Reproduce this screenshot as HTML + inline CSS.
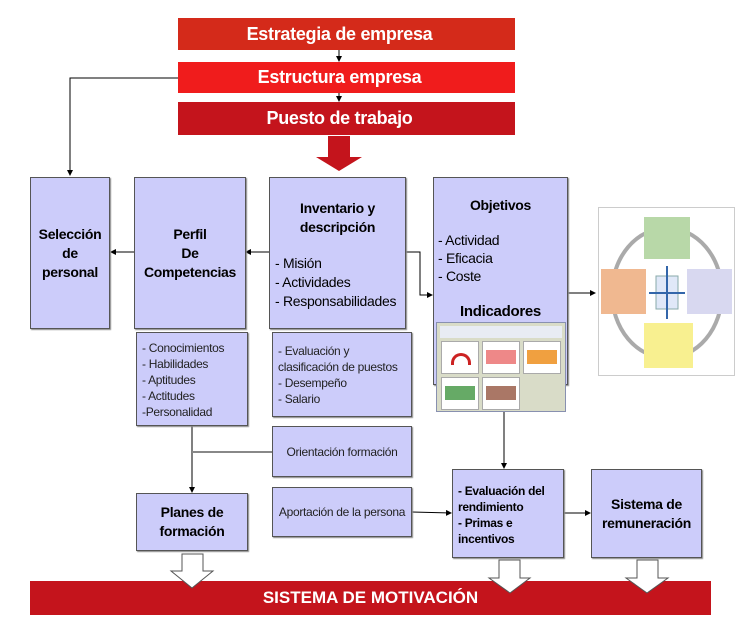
<!DOCTYPE html>
<html><head><meta charset="utf-8"><style>
*{margin:0;padding:0;box-sizing:border-box}
body{width:754px;height:641px;background:#fff;position:relative;overflow:hidden;font-family:"Liberation Sans",sans-serif}
.a{position:absolute}
.bar{position:absolute;left:178px;width:337px;color:#fff;font-weight:bold;font-size:18px;text-align:center;display:flex;align-items:center;justify-content:center;padding-right:14px;letter-spacing:-0.3px}
.box{position:absolute;background:#ccccfa;border:1px solid #555;box-shadow:1px 1px 1px #888}
.t{font-weight:bold;font-size:14px;text-align:center;line-height:19px;letter-spacing:-0.3px}
.n{font-size:12px;line-height:16px;color:#222;letter-spacing:-0.3px}
</style></head><body>
<div class="bar" style="top:18px;height:32px;background:#d42a1a">Estrategia de empresa</div>
<div class="bar" style="top:62px;height:31px;background:#f01c1c">Estructura empresa</div>
<div class="bar" style="top:102px;height:33px;background:#c4141c">Puesto de trabajo</div>

<svg class="a" style="left:0;top:0" width="754" height="641">
<defs><marker id="m" markerWidth="6" markerHeight="6" refX="5" refY="3" orient="auto"><path d="M0,0 L6,3 L0,6z" fill="#000"/></marker></defs>
<g stroke="#000" stroke-width="1" fill="none">
<line x1="339" y1="50" x2="339" y2="61" marker-end="url(#m)"/>
<line x1="339" y1="93" x2="339" y2="101" marker-end="url(#m)"/>
<polyline points="178,78 70,78 70,175" marker-end="url(#m)"/>
<line x1="269" y1="252" x2="246" y2="252" marker-end="url(#m)"/>
<line x1="134" y1="252" x2="111" y2="252" marker-end="url(#m)"/>
<polyline points="406,252 420,252 420,295 432,295" marker-end="url(#m)"/>
<line x1="568" y1="293" x2="595" y2="293" marker-end="url(#m)"/>
<line x1="192" y1="426" x2="192" y2="492" marker-end="url(#m)"/>
<line x1="504" y1="412" x2="504" y2="468" marker-end="url(#m)"/>
<line x1="412" y1="512" x2="451" y2="513" marker-end="url(#m)"/>
<line x1="564" y1="513" x2="590" y2="513" marker-end="url(#m)"/>
</g>
<line x1="192" y1="452" x2="272" y2="452" stroke="#888" stroke-width="2"/>
<path d="M328,136 H350 V157 H362 L339,171 L316,157 H328 Z" fill="#c4141c"/>
</svg>

<div class="box" style="left:30px;top:177px;width:80px;height:152px;display:flex;align-items:center;justify-content:center"><div class="t">Selección<br>de<br>personal</div></div>
<div class="box" style="left:134px;top:177px;width:112px;height:152px;display:flex;align-items:center;justify-content:center"><div class="t">Perfil<br>De<br>Competencias</div></div>
<div class="box" style="left:269px;top:177px;width:137px;height:152px">
<div class="t" style="margin-top:21px">Inventario y<br>descripción</div>
<div class="n" style="font-size:14px;line-height:19px;margin:17px 0 0 5px;color:#000">- Misión<br>- Actividades<br>- Responsabilidades</div></div>
<div class="box" style="left:433px;top:177px;width:135px;height:208px">
<div class="t" style="margin-top:18px">Objetivos</div>
<div class="n" style="font-size:14px;line-height:18px;margin:16px 0 0 4px;color:#000">- Actividad<br>- Eficacia<br>- Coste</div>
<div class="t" style="margin-top:17px;font-size:15px">Indicadores</div></div>
<div class="a" style="left:436px;top:322px;width:130px;height:90px;background:#d9dcc8;border:1px solid #8890b0">
<div class="a" style="left:3px;top:3px;width:122px;height:12px;background:#e8ecf4"></div>
<div class="a" style="left:4px;top:18px;width:38px;height:33px;background:#fff;border:1px solid #aaa"></div>
<div class="a" style="left:14px;top:30px;width:20px;height:12px;border:3px solid #c22;border-bottom:none;border-radius:10px 10px 0 0"></div>
<div class="a" style="left:45px;top:18px;width:38px;height:33px;background:#fff;border:1px solid #aaa"><div class="a" style="left:3px;top:8px;width:30px;height:14px;background:#e88;"></div></div>
<div class="a" style="left:86px;top:18px;width:38px;height:33px;background:#fff;border:1px solid #aaa"><div class="a" style="left:3px;top:8px;width:30px;height:14px;background:#f0a040;"></div></div>
<div class="a" style="left:4px;top:54px;width:38px;height:33px;background:#fff;border:1px solid #aaa"><div class="a" style="left:3px;top:8px;width:30px;height:14px;background:#6a6;"></div></div>
<div class="a" style="left:45px;top:54px;width:38px;height:33px;background:#fff;border:1px solid #aaa"><div class="a" style="left:3px;top:8px;width:30px;height:14px;background:#a76;"></div></div>
</div>

<div class="a" style="left:598px;top:207px;width:137px;height:169px;border:1px solid #ccc;background:#fff">
<svg width="137" height="169" style="position:absolute;left:0;top:0">
<ellipse cx="68" cy="85" rx="55" ry="65" fill="none" stroke="#aaa" stroke-width="4"/>
<rect x="45" y="9" width="46" height="42" fill="#b8d8a8"/>
<rect x="2" y="61" width="45" height="45" fill="#f0b890"/>
<rect x="88" y="61" width="45" height="45" fill="#d8d8f0"/>
<rect x="45" y="115" width="49" height="45" fill="#f8f090"/>
<rect x="57" y="68" width="22" height="33" fill="#e0e8f8" stroke="#8aa"/>
<path d="M68,58 V111 M50,85 H86" stroke="#36a" stroke-width="2"/>
</svg></div>

<div class="box" style="left:136px;top:332px;width:112px;height:94px"><div class="n" style="margin:7px 0 0 5px">- Conocimientos<br>- Habilidades<br>- Aptitudes<br>- Actitudes<br>-Personalidad</div></div>
<div class="box" style="left:272px;top:332px;width:140px;height:85px"><div class="n" style="margin:10px 0 0 5px">- Evaluación y<br>clasificación de puestos<br>- Desempeño<br>- Salario</div></div>
<div class="box" style="left:272px;top:426px;width:140px;height:51px;display:flex;align-items:center;justify-content:center"><div class="n">Orientación formación</div></div>
<div class="box" style="left:272px;top:487px;width:140px;height:50px;display:flex;align-items:center;justify-content:center"><div class="n">Aportación de la persona</div></div>
<div class="box" style="left:136px;top:493px;width:112px;height:58px;display:flex;align-items:center;justify-content:center"><div class="t">Planes de<br>formación</div></div>
<div class="box" style="left:452px;top:469px;width:112px;height:89px"><div class="t" style="text-align:left;font-size:12px;line-height:16px;margin:13px 0 0 5px">- Evaluación del<br>rendimiento<br>- Primas e<br>incentivos</div></div>
<div class="box" style="left:591px;top:469px;width:111px;height:89px;display:flex;align-items:center;justify-content:center"><div class="t">Sistema de<br>remuneración</div></div>

<div class="a" style="left:30px;top:581px;width:681px;height:34px;background:#c4141c;color:#fff;font-size:17px;font-weight:bold;display:flex;align-items:center;justify-content:center;padding-left:0">SISTEMA DE MOTIVACIÓN</div>
<svg class="a" style="left:0;top:0" width="754" height="641">
<g fill="#fff" stroke="#555" stroke-width="1">
<path d="M182,554 H203 V571 H213 L192,588 L171,571 H182 Z"/>
<path d="M499,560 H520 V578 H530 L510,593 L489,578 H499 Z"/>
<path d="M637,560 H658 V578 H668 L647,593 L626,578 H637 Z"/>
</g></svg>
</body></html>
